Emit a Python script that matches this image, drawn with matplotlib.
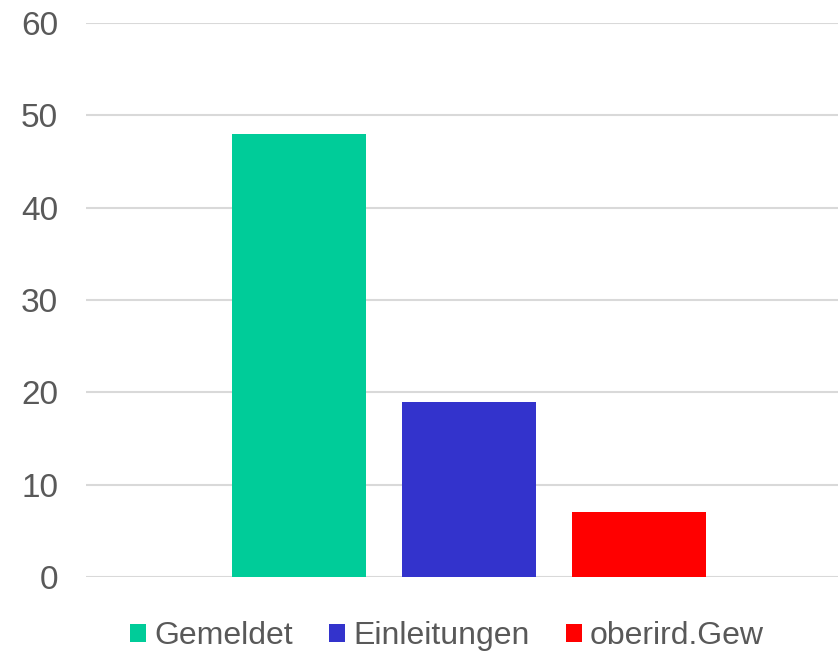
import matplotlib.pyplot as plt

plt.rcParams['font.family'] = ['Liberation Sans', 'DejaVu Sans']

series = ['Gemeldet', 'Einleitungen', 'oberird.Gew']
values = [48, 19, 7]
colors = ['#00CC99', '#3333CC', '#FF0000']
yticks = [0, 10, 20, 30, 40, 50, 60]

TXT = '#595959'

fig = plt.figure(figsize=(8.38, 6.55), dpi=100)
ax = fig.add_axes([86/838, 1 - 577/655, 1 - 86/838, (577 - 23)/655])

pos = [-1, 0, 1]
for x, v, c, s in zip(pos, values, colors, series):
    ax.bar(x, v, width=134/170, color=c, label=s, zorder=3)

ax.set_xlim(-2.253, 2.17)
ax.set_ylim(0, 60)
ax.set_yticks(yticks)
ax.set_xticks([])
ax.yaxis.grid(True, color='#D9D9D9', linewidth=1.5, zorder=0)
for sp in ax.spines.values():
    sp.set_visible(False)
ax.tick_params(axis='y', length=0, labelsize=24, labelcolor=TXT, pad=20)

fig.legend(loc='center', bbox_to_anchor=(0.5 + 28/838, 1 - 636/655), ncol=3, frameon=False,
           fontsize=23, labelcolor=TXT, handlelength=0.5, handleheight=0.5,
           handletextpad=0.25, columnspacing=1.13, borderaxespad=0)

fig.savefig('out.png', dpi=100)
